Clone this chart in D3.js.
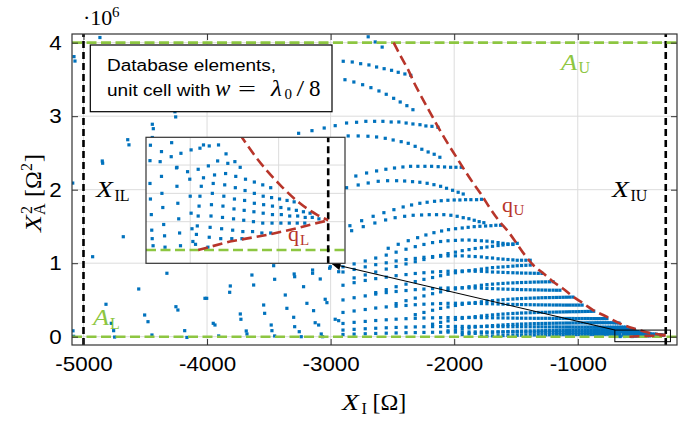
<!DOCTYPE html>
<html><head><meta charset="utf-8">
<script src="https://cdn.jsdelivr.net/npm/d3@7"></script>
<style>body{margin:0;background:#fff}svg{display:block}</style>
</head><body><svg id="c" width="686" height="422"></svg>
<script>
// ---------- DATA ----------
const xTicks=[-5000,-4000,-3000,-2000,-1000];
const yTicks=[0,1,2,3,4];            // x 1e6
const xDomain=[-5093,-197];
const yDomain=[-0.113,4.118];
const XIL=-5000, XIU=-288, AU=4.0, AL=0.0;
const zoomBoxX=[-700,-250], zoomBoxY=[-0.068,0.09];
const insetXDomain=[-700,-250], insetYDomain=[-0.0094,0.0796];
const insetXTicks=[-600,-400], insetYTicks=[0.02,0.04,0.06];
const arrowTip=[-2985,0.99];

// upper arcs  [X_I, X_A^2 (1e6)]
const arcA=[[-2898,3.747],[-2825,3.737],[-2757,3.714],[-2690,3.697],[-2628,3.669],[-2567,3.646],[-2507,3.624],[-2453,3.597],[-2399,3.574],[-2351,3.556]];
const arcB=[[-2884,3.496],[-2812,3.465],[-2741,3.428],[-2674,3.388],[-2609,3.343],[-2550,3.298],[-2490,3.243],[-2437,3.193],[-2383,3.143],[-2334,3.088]];
const arcC=[[-3259,2.767],[-3151,2.803],[-3052,2.839],[-2963,2.871],[-2871,2.907],[-2790,2.917],[-2715,2.930],[-2644,2.930],[-2577,2.930],[-2510,2.921],[-2448,2.921],[-2389,2.907],[-2334,2.894],[-2277,2.884],[-2229,2.867],[-2180,2.862],[-2132,2.849]];
const arcD=[[-2858,2.731],[-2777,2.731],[-2698,2.727],[-2628,2.717],[-2558,2.699],[-2494,2.676],[-2429,2.653],[-2372,2.631],[-2316,2.590],[-2262,2.550],[-2211,2.513],[-2162,2.482],[-2116,2.441]];
const arcE=[[-2796,2.186],[-2709,2.227],[-2628,2.255],[-2553,2.278],[-2483,2.295],[-2415,2.309],[-2353,2.318],[-2294,2.318],[-2237,2.318],[-2183,2.318],[-2130,2.313],[-2078,2.309],[-2029,2.305],[-1986,2.305],[-1943,2.305]];
const arcF=[[-2871,2.027],[-2777,2.064],[-2696,2.091],[-2615,2.114],[-2539,2.122],[-2466,2.122],[-2401,2.118],[-2337,2.109],[-2278,2.101],[-2219,2.087],[-2164,2.068],[-2110,2.046],[-2062,2.019],[-2013,1.992],[-1968,1.965],[-1927,1.941]];
const arcG=[[-2844,1.510],[-2749,1.578],[-2656,1.638],[-2569,1.687],[-2488,1.728],[-2413,1.765],[-2345,1.792],[-2278,1.815],[-2219,1.829],[-2159,1.842],[-2105,1.850],[-2051,1.856],[-2000,1.860],[-1954,1.860],[-1908,1.864],[-1865,1.864],[-1819,1.864],[-1779,1.869]];
const arcH=[[-2830,1.442],[-2736,1.497],[-2642,1.547],[-2555,1.588],[-2478,1.619],[-2401,1.638],[-2332,1.652],[-2264,1.656],[-2202,1.660],[-2143,1.660],[-2084,1.660],[-2027,1.652],[-1976,1.638],[-1927,1.619],[-1881,1.605],[-1838,1.584],[-1798,1.565],[-1760,1.551]];
const arcI=[[-2534,1.203],[-2453,1.257],[-2372,1.306],[-2296,1.347],[-2229,1.384],[-2164,1.415],[-2102,1.438],[-2046,1.456],[-1989,1.469],[-1935,1.479],[-1887,1.488],[-1838,1.497],[-1792,1.502],[-1746,1.506],[-1703,1.510],[-1663,1.516],[-1625,1.516]];

// lower arcs: column positions and values per column
const lowerCols=[-2900,-2810,-2720,-2635,-2550,-2470,-2390,-2315,-2245,-2175,-2110,-2050,-1990,-1935,-1880,-1830,-1780,-1735,-1690,-1645,-1605,-1565,-1525,-1490,-1455,-1420,-1385,-1352,-1320,-1290,-1260,-1230,-1200,-1172,-1145,-1118,-1092,-1066,-1040,-1015,-990,-965,-940,-917,-894,-871,-849,-827,-806,-785,-764,-744,-724,-705,-686,-667,-648,-630,-612,-594,-577,-560,-543,-526,-510,-494,-478,-462,-447,-432,-417,-402,-388,-374,-360,-346,-333,-320,-307,-295];
const arcJ=[0.95,0.99,1.03,1.07,1.11,1.15,1.19,1.225,1.255,1.28,1.295,1.305,1.31,1.315,1.315,1.31,1.305,1.30,1.29,1.28,1.27,1.262,1.255];
const arcK=[0.80,0.84,0.88,0.92,0.955,0.99,1.02,1.05,1.08,1.105,1.13,1.15,1.17,1.185,1.20,1.21,1.22,1.23,1.24,1.248,1.255,1.262,1.27];
const arcL=[0.88,0.915,0.95,0.98,1.005,1.03,1.05,1.065,1.08,1.09,1.095,1.10,1.10,1.10,1.095,1.09,1.085,1.075,1.07,1.06,1.055,1.05,1.045,1.04,1.04,1.04,1.04];
const arcM=[0.60,0.64,0.68,0.715,0.75,0.78,0.805,0.83,0.85,0.87,0.885,0.90,0.91,0.92,0.93,0.94,0.945,0.95,0.955,0.96,0.965,0.968,0.971,0.974];
const arcN=[0.70,0.735,0.765,0.79,0.81,0.83,0.845,0.86,0.87,0.88,0.885,0.89,0.895,0.895,0.895,0.89,0.89,0.885,0.88,0.878,0.875,0.872,0.87,0.868,0.866,0.865,0.864,0.863,0.862,0.861];
const arcO=[0.45,0.49,0.525,0.555,0.585,0.61,0.63,0.65,0.665,0.68,0.69,0.70,0.708,0.715,0.72,0.725,0.729,0.732,0.735,0.737,0.739,0.741,0.743,0.744,0.745,0.746,0.747,0.748];
const arcP=[0.50,0.53,0.555,0.58,0.60,0.615,0.628,0.64,0.648,0.655,0.66,0.663,0.665,0.665,0.664,0.662,0.66,0.657,0.654,0.651,0.648,0.646,0.644,0.642,0.64,0.639,0.638,0.637,0.636,0.635,0.634,0.633,0.633,0.632,0.632];
const arcQ=[0.30,0.33,0.36,0.385,0.405,0.425,0.44,0.455,0.465,0.475,0.485,0.49,0.497,0.503,0.508,0.512,0.516,0.519,0.522,0.524,0.526,0.528,0.53,0.531,0.532,0.533,0.534,0.535,0.536,0.537,0.538,0.539];
const arcR=[0.33,0.35,0.37,0.39,0.405,0.415,0.425,0.435,0.442,0.447,0.451,0.454,0.455,0.455,0.455,0.453,0.451,0.449,0.447,0.445,0.443,0.441,0.439,0.438,0.437,0.436,0.435,0.434,0.433,0.433,0.432,0.432,0.431,0.431,0.431,0.43,0.43,0.43,0.43,0.43,0.43,0.43];
const arcS=[0.17,0.195,0.215,0.235,0.25,0.262,0.273,0.282,0.29,0.297,0.303,0.308,0.312,0.316,0.319,0.322,0.324,0.326,0.328,0.33,0.331,0.332,0.333,0.334,0.335,0.336,0.337,0.338,0.339,0.34,0.34,0.341,0.342,0.343,0.344,0.345,0.346];
const arcT=[0.18,0.195,0.208,0.22,0.23,0.238,0.245,0.25,0.254,0.257,0.259,0.26,0.261,0.261,0.261,0.26,0.259,0.258,0.257,0.256,0.255,0.254,0.253,0.252,0.252,0.251,0.251,0.25,0.25,0.25,0.25,0.25,0.249,0.249,0.249,0.248,0.248,0.248,0.248,0.247,0.247,0.247,0.247,0.247,0.246,0.246,0.246,0.246,0.246,0.246,0.246];
const arcU=[0.08,0.095,0.108,0.12,0.13,0.138,0.145,0.151,0.156,0.16,0.164,0.167,0.17,0.172,0.174,0.176,0.178,0.179,0.18,0.181,0.182,0.183,0.184,0.185,0.185,0.186,0.186,0.187,0.187,0.188,0.188,0.188,0.189,0.189,0.189,0.19,0.19,0.19,0.19,0.19,0.19,0.19,0.188,0.187,0.186];
const arcV=[0.09,0.1,0.108,0.115,0.121,0.126,0.13,0.133,0.135,0.137,0.138,0.139,0.14,0.14,0.14,0.14,0.139,0.139,0.138,0.138,0.137,0.137,0.136,0.136,0.135,0.135,0.135,0.134,0.134,0.134,0.133,0.133,0.133,0.133,0.132,0.132,0.132,0.132,0.132,0.131,0.131,0.131,0.131,0.131,0.131,0.13,0.13,0.13,0.13,0.13,0.13,0.13,0.13,0.13,0.13,0.13,0.13,0.13,0.13];
const arcW=[0.03,0.038,0.045,0.051,0.056,0.06,0.064,0.067,0.07,0.072,0.074,0.076,0.078,0.079,0.08,0.081,0.082,0.083,0.084,0.085,0.086,0.087,0.088,0.088,0.089,0.09,0.09,0.091,0.091,0.092,0.092,0.093,0.093,0.094,0.094,0.095,0.095,0.096,0.096,0.097,0.097,0.098,0.098,0.099,0.099,0.1,0.1,0.1,0.1,0.1];
const arcX=[0.03,0.035,0.04,0.044,0.048,0.051,0.054,0.056,0.058,0.06,0.061,0.062,0.063,0.064,0.064,0.065,0.065,0.065,0.065,0.065,0.064,0.064,0.064,0.063,0.063,0.063,0.062,0.062,0.062,0.062,0.061,0.061,0.061,0.061,0.06,0.06,0.06,0.06,0.06,0.06,0.06,0.059,0.059,0.059,0.059,0.059,0.058,0.058,0.058,0.058,0.058,0.058,0.057,0.057];
const arcY=[0.005,0.008,0.011,0.013,0.015,0.017,0.019,0.02,0.021,0.022,0.023,0.024,0.025,0.026,0.026,0.027,0.027,0.028,0.028,0.029,0.029,0.03,0.03,0.03,0.031,0.031,0.031,0.032,0.032,0.032,0.033,0.033,0.033,0.033,0.034,0.034,0.034,0.034];
const lowerStart=[0,1,0,3,0,5,0,7,0,9,0,11,0,13,0,16];

// scattered points (left part of the plot)
const sparsePts=[[-4867,4.07],[-5077,3.81],[-5069,3.75],[-4867,3.53],[-4260,3.06],[-4254,2.99],[-4443,2.89],[-4435,2.83],[-4443,2.71],[-4642,2.68],[-4632,2.61],[-4848,2.39],[-4845,2.36],[-5087,2.09],[-4678,1.36],[-4926,1.088],
[-2696,4.08],[-2639,4.01],[-2583,3.94],
[-5085,0.08],[-5080,0.005],[-4325,0.863],[-4553,0.649],[-4818,0.441],[-4775,0.182],[-4756,0.082],[-4748,-0.005],[-4505,0.295],[-4478,0.204],[-4446,0.023],[-4252,0.408],[-4236,0.363],[-4181,0.082],[-4163,-0.01],[-4017,0.522],[-4003,0.522],[-3950,0.182],[-3936,0.159],[-3906,0.01],[-3812,0.690],[-3817,0.604],[-3731,0.309],[-3726,0.237],[-3683,0.078],[-3677,0.037],[-3637,0.839],[-3623,0.703],[-3542,0.431],[-3534,0.318],[-3481,0.159],[-3475,0.082],[-3453,0.01],[-3461,0.966],[-3453,0.781],[-3367,0.567],[-3354,0.386],[-3295,0.853],[-3291,0.816],[-3299,0.264],[-3291,0.136],[-3254,0.068],[-3238,0.0],[-3219,0.680],[-3192,0.454],[-3146,0.907],[-3146,0.863],[-3138,0.354],[-3125,0.190],[-3097,0.159],[-3076,0.037],[-3065,0.0],[-3084,0.785],[-3044,0.509],[-3030,0.463],[-3003,0.952],[-3008,0.931],[-2963,0.237],[-2935,0.218],[-2935,0.884]];

// points in the zoomed region (X_I > -700)
const insetPts=[[-691,0.047],[-690,0.036],[-688,0.025],[-687,0.014],[-686,0.008],[-684,0.003],
[-665,0.052],[-664,0.040],[-662,0.030],[-660,0.018],[-658,0.010],[-657,0.002],
[-631,0.058],[-630,0.045],[-628,0.033],[-626,0.022],[-624,0.012],[-622,0.003],
[-601,0.050],[-600,0.038],[-598,0.026],[-596,0.015],[-594,0.006],
[-642,0.0758],[-665,0.0695],[-621,0.0683],[-598,0.0707],[-578,0.0719],[-570,0.0742],[-557,0.0735],[-536,0.0742],[-691,0.0631],[-668,0.0624],[-643,0.0659],[-630,0.0584],[-606,0.0553],[-582,0.0570],[-559,0.0594],[-538,0.0629],[-519,0.0679],[-515,0.0612],[-499,0.0624],[-487,0.0584],[-690,0.074],
[-570,0.051],[-545,0.053],[-520,0.054],[-497,0.052],[-475,0.050],[-455,0.048],[-436,0.046],[-418,0.044],
[-575,0.045],[-548,0.047],[-522,0.046],[-498,0.044],[-476,0.042],[-455,0.040],[-435,0.038],[-416,0.037],[-398,0.036],[-381,0.035],[-365,0.034],
[-578,0.038],[-550,0.040],[-524,0.038],[-500,0.036],[-477,0.035],[-455,0.033],[-434,0.032],[-414,0.031],[-395,0.030],[-377,0.029],[-360,0.028],[-344,0.027],[-329,0.026],
[-580,0.031],[-552,0.032],[-526,0.031],[-501,0.029],[-478,0.028],[-456,0.027],[-435,0.026],[-414,0.025],[-394,0.025],[-375,0.024],[-357,0.024],[-340,0.023],[-324,0.023],[-309,0.022],
[-582,0.024],[-553,0.024],[-527,0.023],[-502,0.022],[-479,0.021],[-457,0.020],[-436,0.019],[-415,0.019],[-395,0.019],[-376,0.019],[-358,0.019],[-341,0.019],
[-584,0.017],[-555,0.016],[-529,0.015],[-504,0.014],[-481,0.013],[-459,0.013],[-438,0.012],[-418,0.012],
[-586,0.011],[-557,0.009],[-531,0.008],[-506,0.008],[-483,0.008],[-588,0.004],[-560,0.002]];

// bound curves
const qU=[[-2490,4.0],[-2431,3.81],[-2372,3.63],[-2326,3.46],[-2270,3.28],[-2215,3.11],[-2156,2.93],[-2102,2.77],[-2049,2.62],[-1981,2.44],[-1914,2.26],[-1847,2.09],[-1779,1.93],[-1711,1.75],[-1644,1.59],[-1563,1.43],[-1495,1.27],[-1428,1.11],[-1361,0.975],[-1280,0.863],[-1199,0.748],[-1118,0.652],[-1037,0.544],[-957,0.454],[-876,0.363],[-767,0.272],[-660,0.182],[-552,0.114],[-484,0.080],[-450,0.065],[-397,0.046],[-352,0.033],[-314,0.025],[-288,0.021]];
const qL=[[-582,0.0],[-510,0.006],[-427,0.0106],[-359,0.0153],[-288,0.021]];

// ---------- DRAW ----------
const BLUE="#0072BD", RED="#B8352A", GREEN="#8DC641", FRAME="#333";
const SANS="'Liberation Sans', Arial, Helvetica, sans-serif";
const SERIF="'Liberation Serif', 'Times New Roman', serif";
const P={l:72,r:677,t:34,b:345};
const IN={l:146,r:345,t:137.3,b:263.3};

const svg=d3.select("#c");
const x=d3.scaleLinear().domain(xDomain).range([P.l,P.r]);
const y=d3.scaleLinear().domain(yDomain).range([P.b,P.t]);
const xi=d3.scaleLinear().domain(insetXDomain).range([IN.l,IN.r]);
const yi=d3.scaleLinear().domain(insetYDomain).range([IN.b,IN.t]);

const defs=svg.append("defs");
defs.append("clipPath").attr("id","clipMain").append("rect").attr("x",P.l).attr("y",P.t).attr("width",P.r-P.l).attr("height",P.b-P.t);
defs.append("clipPath").attr("id","clipIn").append("rect").attr("x",IN.l).attr("y",IN.t).attr("width",IN.r-IN.l).attr("height",IN.b-IN.t);

// grid
const grid=svg.append("g").attr("stroke","#dcdcdc").attr("stroke-width",1);
grid.selectAll(".gx").data(xTicks).join("line").attr("x1",d=>x(d)).attr("x2",d=>x(d)).attr("y1",P.t).attr("y2",P.b);
grid.selectAll(".gy").data(yTicks).join("line").attr("y1",d=>y(d)).attr("y2",d=>y(d)).attr("x1",P.l).attr("x2",P.r);

// points
const upperPts=[arcA,arcB,arcC,arcD,arcE,arcF,arcG,arcH,arcI].flat();
const lowerArcs=[arcJ,arcK,arcL,arcM,arcN,arcO,arcP,arcQ,arcR,arcS,arcT,arcU,arcV,arcW,arcX,arcY];
const lowerPts=lowerArcs.flatMap((ys,k)=>ys.map((v,i)=>[lowerCols[lowerStart[k]+i],v]));
const allPts=upperPts.concat(lowerPts,sparsePts,insetPts);
const S=3.2;
svg.append("g").attr("clip-path","url(#clipMain)").selectAll("rect").data(allPts).join("rect")
  .attr("x",d=>x(d[0])-S/2).attr("y",d=>y(d[1])-S/2).attr("width",S).attr("height",S).attr("fill",BLUE);

// dashed bound lines
const mainLines=svg.append("g").attr("clip-path","url(#clipMain)").attr("fill","none");
const lineM=d3.line().x(d=>x(d[0])).y(d=>y(d[1]));
const curveM=d3.line().x(d=>x(d[0])).y(d=>y(d[1])).curve(d3.curveMonotoneX);
mainLines.append("path").attr("d",lineM([[XIL,yDomain[0]],[XIL,yDomain[1]]])).attr("stroke","#000").attr("stroke-width",2.6).attr("stroke-dasharray","7,4");
mainLines.append("path").attr("d",lineM([[XIU,yDomain[0]],[XIU,yDomain[1]]])).attr("stroke","#000").attr("stroke-width",2.6).attr("stroke-dasharray","7,4");
mainLines.append("path").attr("d",lineM([[xDomain[0],AU],[xDomain[1],AU]])).attr("stroke",GREEN).attr("stroke-width",2.6).attr("stroke-dasharray","10,4.5");
mainLines.append("path").attr("d",lineM([[xDomain[0],AL],[xDomain[1],AL]])).attr("stroke",GREEN).attr("stroke-width",2.6).attr("stroke-dasharray","10,4.5");
mainLines.append("path").attr("d",curveM(qU)).attr("stroke",RED).attr("stroke-width",2.6).attr("stroke-dasharray","10,5");
mainLines.append("path").attr("d",lineM(qL)).attr("stroke",RED).attr("stroke-width",2.6).attr("stroke-dasharray","10,5");

// axes
function styleAxis(g,labels){
  g.select(".domain").remove();
  g.selectAll(".tick line").attr("stroke",FRAME).attr("stroke-width",1);
  g.selectAll(".tick text").attr("fill","#000").attr("font-family",SANS).attr("font-size",20);
  if(!labels) g.selectAll(".tick text").remove();
}
const gxB=svg.append("g").attr("transform",`translate(0,${P.b})`)
  .call(d3.axisBottom(x).tickValues(xTicks).tickSizeInner(-6).tickSizeOuter(0).tickPadding(11.5).tickFormat(d=>String(d)));
styleAxis(gxB,true); gxB.selectAll(".tick text").attr("transform","scale(1.12,1)");
const gxT=svg.append("g").attr("transform",`translate(0,${P.t})`).call(d3.axisTop(x).tickValues(xTicks).tickSizeInner(-6).tickSizeOuter(0));
styleAxis(gxT,false);
const gyL=svg.append("g").attr("transform",`translate(${P.l},0)`)
  .call(d3.axisLeft(y).tickValues(yTicks).tickSizeInner(-6).tickSizeOuter(0).tickPadding(9.2).tickFormat(d=>String(d)));
styleAxis(gyL,true); gyL.selectAll(".tick text").attr("transform","scale(1.12,1)");
const gyR=svg.append("g").attr("transform",`translate(${P.r},0)`).call(d3.axisRight(y).tickValues(yTicks).tickSizeInner(-6).tickSizeOuter(0));
styleAxis(gyR,false);
svg.append("rect").attr("x",P.l).attr("y",P.t).attr("width",P.r-P.l).attr("height",P.b-P.t)
  .attr("fill","none").attr("stroke",FRAME).attr("stroke-width",1.2);

// legend box
svg.append("rect").attr("x",90.3).attr("y",45).attr("width",241.7).attr("height",66.7).attr("fill","#fff").attr("stroke","#000").attr("stroke-width",1.2);
svg.append("text").attr("transform","translate(107,71.3) scale(1.1,1)").attr("font-family",SANS).attr("font-size",17.3).text("Database elements,");
svg.append("text").attr("transform","translate(107,95.7) scale(1.1,1)").attr("font-family",SANS).attr("font-size",17.3).text("unit cell with");
function mtext(px,py,str,opt={}){
  const t=svg.append("text").attr("transform",`translate(${px},${py}) scale(${opt.sx||1},1)`)
    .attr("font-family",SERIF).attr("font-size",opt.fs||22).attr("fill",opt.fill||"#000")
    .attr("font-style",opt.it?"italic":"normal").text(str);
  return t;
}
mtext(215,95.7,"w",{it:true,fs:23});
mtext(238,95.7,"=",{fs:22,sx:1.45});
mtext(271,95.7,"λ",{it:true,fs:23,sx:1.1});
mtext(284.5,99,"0",{fs:15});
mtext(296.5,95.7,"/",{fs:23,sx:1.2});
mtext(309,95.7,"8",{fs:23});

// ×10^6
mtext(83,25,"·10",{fs:22});
mtext(112,17,"6",{fs:15});

// axis labels
mtext(342,410,"X",{it:true,fs:24,sx:1.15});
mtext(361.5,413.5,"I",{fs:16});
mtext(372.5,410,"[Ω]",{fs:24});
const yl=svg.append("g").attr("transform","translate(41,232) rotate(-90)");
function ytxt(lx,ly,str,fs,it,sx){yl.append("text").attr("transform",`translate(${lx},${ly}) scale(${sx||1},1)`).attr("font-family",SERIF).attr("font-size",fs).attr("font-style",it?"italic":"normal").text(str);}
ytxt(0,0,"X",24,true,1.15);
ytxt(18,-9,"2",16,false);
ytxt(17,4,"A",16,false);
ytxt(35,0,"[Ω",24,false);
ytxt(61,-9,"2",16,false);
ytxt(70,0,"]",24,false);

// bound labels
mtext(96,196.7,"X",{it:true,fs:24,sx:1.15});
mtext(114.5,200.5,"IL",{fs:16});
mtext(612,196.7,"X",{it:true,fs:24,sx:1.15});
mtext(630.5,200.5,"IU",{fs:16});
mtext(561,70,"A",{it:true,fs:24,fill:GREEN,sx:1.1});
mtext(578.5,73,"U",{fs:16,fill:GREEN});
mtext(93,325,"A",{it:true,fs:24,fill:GREEN,sx:1.1});
mtext(110,328.5,"L",{fs:16,fill:GREEN});
mtext(502,211.5,"q",{fs:22,fill:RED});
mtext(513.5,215,"U",{fs:15,fill:RED});

// zoom box + arrow
svg.append("rect").attr("x",x(zoomBoxX[0])).attr("y",y(zoomBoxY[1])).attr("width",x(zoomBoxX[1])-x(zoomBoxX[0])).attr("height",y(zoomBoxY[0])-y(zoomBoxY[1]))
  .attr("fill","none").attr("stroke","#000").attr("stroke-width",1);
defs.append("marker").attr("id","ah").attr("viewBox","0 0 10 10").attr("refX",9).attr("refY",5).attr("markerWidth",12).attr("markerHeight",9).attr("markerUnits","userSpaceOnUse").attr("orient","auto")
  .append("path").attr("d","M0,0 L10,5 L0,10 z").attr("fill","#000");
svg.append("line").attr("x1",x(zoomBoxX[0])).attr("y1",y(zoomBoxY[1])).attr("x2",x(arrowTip[0])).attr("y2",y(arrowTip[1]))
  .attr("stroke","#000").attr("stroke-width",1.1).attr("marker-end","url(#ah)");

// ---------- INSET ----------
const ins=svg.append("g");
ins.append("rect").attr("x",IN.l).attr("y",IN.t).attr("width",IN.r-IN.l).attr("height",IN.b-IN.t).attr("fill","#fff");
const ig=ins.append("g").attr("stroke","#dcdcdc").attr("stroke-width",1);
ig.selectAll(".a").data(insetXTicks).join("line").attr("x1",d=>xi(d)).attr("x2",d=>xi(d)).attr("y1",IN.t).attr("y2",IN.b);
ig.selectAll(".b").data(insetYTicks).join("line").attr("y1",d=>yi(d)).attr("y2",d=>yi(d)).attr("x1",IN.l).attr("x2",IN.r);
const ic=ins.append("g").attr("clip-path","url(#clipIn)");
ic.selectAll("rect").data(insetPts).join("rect").attr("x",d=>xi(d[0])-S/2).attr("y",d=>yi(d[1])-S/2).attr("width",S).attr("height",S).attr("fill",BLUE);
const lineI=d3.line().x(d=>xi(d[0])).y(d=>yi(d[1]));
const curveI=d3.line().x(d=>xi(d[0])).y(d=>yi(d[1])).curve(d3.curveMonotoneX);
const il=ic.append("g").attr("fill","none");
il.append("path").attr("d",lineI([[insetXDomain[0],AL],[insetXDomain[1],AL]])).attr("stroke",GREEN).attr("stroke-width",2.6).attr("stroke-dasharray","10,4.5");
il.append("path").attr("d",lineI([[XIU,insetYDomain[0]],[XIU,insetYDomain[1]]])).attr("stroke","#000").attr("stroke-width",2.6).attr("stroke-dasharray","7,4");
il.append("path").attr("d",curveI(qU)).attr("stroke",RED).attr("stroke-width",2.6).attr("stroke-dasharray","10,5");
il.append("path").attr("d",lineI(qL)).attr("stroke",RED).attr("stroke-width",2.6).attr("stroke-dasharray","10,5");
ins.append("rect").attr("x",IN.l).attr("y",IN.t).attr("width",IN.r-IN.l).attr("height",IN.b-IN.t).attr("fill","none").attr("stroke",FRAME).attr("stroke-width",1.2);
mtext(288,241,"q",{fs:22,fill:RED});
mtext(300,245,"L",{fs:15,fill:RED});
</script></body></html>
